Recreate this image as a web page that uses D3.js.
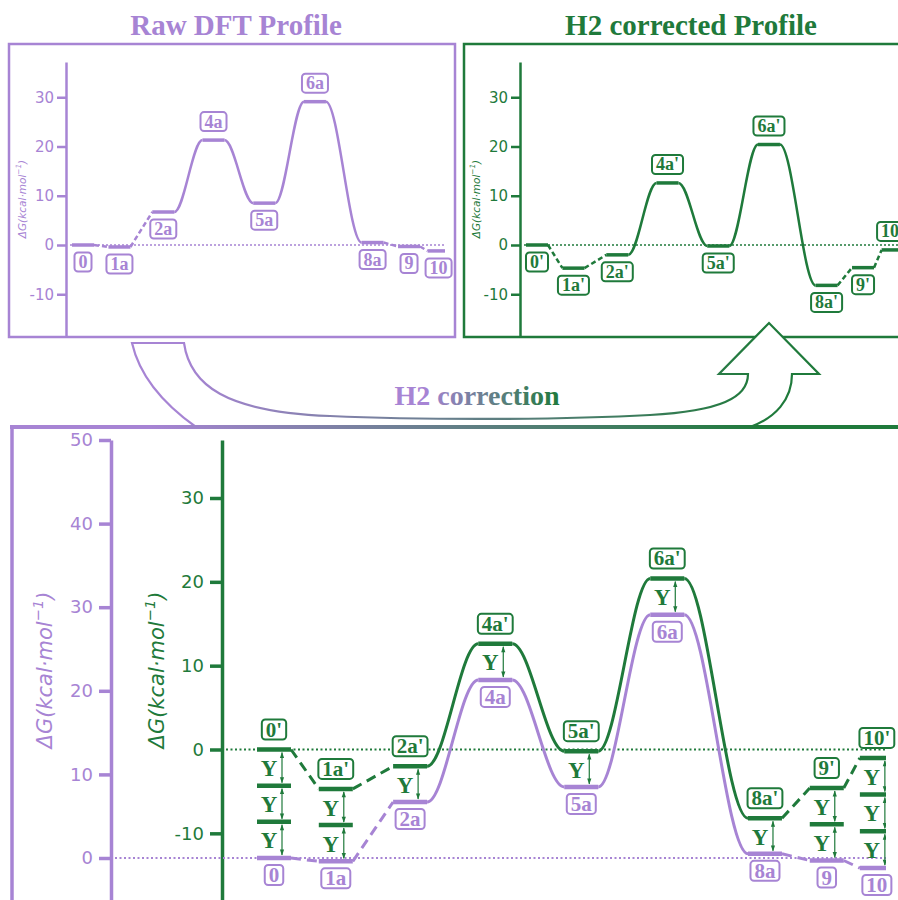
<!DOCTYPE html>
<html>
<head>
<meta charset="utf-8">
<script src="https://cdn.jsdelivr.net/npm/d3@7"></script>
<style>
body { margin: 0; background: #fff; }
</style>
</head>
<body>
<svg id="chart" width="898" height="900"></svg>
<script>
// states along the path
var stateNames = ["0", "1a", "2a", "4a", "5a", "6a", "8a", "9", "10"];
var primeNames = ["0'", "1a'", "2a'", "4a'", "5a'", "6a'", "8a'", "9'", "10'"];
var xPos = [0, 7.4, 16.3, 26.5, 36.8, 47.1, 58.8, 66.2, 72.2];
// free energies kcal/mol
var rawG = [0, -0.4, 6.7, 21.3, 8.5, 29.1, 0.5, -0.3, -1.2];
var corrG = [0, -4.7, -2.0, 12.6, -0.2, 20.4, -8.2, -4.6, -1.0];
var nY = [3, 2, 1, 1, 1, 1, 1, 2, 3];
var linkType = ["dash", "dash", "curve", "curve", "curve", "curve", "dash", "dash"];
var rawTagSide = ["below", "below", "below", "above", "below", "above", "below", "below", "below"];
var corrTagSide = ["below", "below", "below", "above", "below", "above", "below", "below", "above"];
var topTicks = [-10, 0, 10, 20, 30];
var rawTicks = [0, 10, 20, 30, 40, 50];
var corrTicks = [-10, 0, 10, 20, 30];

var purple = "#a784d4";
var green = "#1f7a3b";
var serif = "Liberation Serif, Times New Roman, serif";
var sans = "DejaVu Sans, sans-serif";

var svg = d3.select("#chart");
var defs = svg.append("defs");

function hGrad(id, x1, x2) {
	var g = defs.append("linearGradient").attr("id", id)
		.attr("gradientUnits", "userSpaceOnUse")
		.attr("x1", x1).attr("x2", x2).attr("y1", 0).attr("y2", 0);
	g.append("stop").attr("offset", 0).attr("stop-color", purple);
	g.append("stop").attr("offset", 1).attr("stop-color", green);
}
hGrad("gBorder", 150, 760);
hGrad("gArrow", 180, 760);
hGrad("gText", 425, 560);

defs.append("marker").attr("id", "ah")
	.attr("viewBox", "0 0 10 10").attr("refX", 9).attr("refY", 5)
	.attr("markerWidth", 7).attr("markerHeight", 6)
	.attr("markerUnits", "userSpaceOnUse")
	.attr("orient", "auto-start-reverse")
	.append("path").attr("d", "M0,1.5L10,5L0,8.5Z").attr("fill", green);

defs.append("clipPath").attr("id", "clipTL").append("rect")
	.attr("x", 0).attr("y", 40).attr("width", 445).attr("height", 300);
defs.append("clipPath").attr("id", "clipB").append("rect")
	.attr("x", 0).attr("y", 430).attr("width", 886).attr("height", 470);

function extend(s, lo, hi) {
	// stretch the scale so the axis line runs from lo to hi px
	s.domain([s.invert(lo), s.invert(hi)]).range([lo, hi]);
	return s;
}

function tag(g, x, y, txt, col, size, padX, h) {
	var t = g.append("text")
		.attr("x", x).attr("y", y)
		.attr("text-anchor", "middle")
		.attr("dominant-baseline", "central")
		.attr("font-family", serif).attr("font-weight", "bold")
		.attr("font-size", size).attr("fill", col)
		.text(txt);
	var w = t.node().getComputedTextLength() + padX;
	g.insert("rect", function() { return t.node(); })
		.attr("x", x - w / 2).attr("y", y - h / 2)
		.attr("width", w).attr("height", h)
		.attr("rx", 3.5).attr("fill", "#fff")
		.attr("stroke", col).attr("stroke-width", 2);
}

function profile(g, xs, ys, vals, hw, col, barW, lineW, dash) {
	var pts = vals.map(function(v, i) {
		return {xl: xs(xPos[i]) - hw, xr: xs(xPos[i]) + hw, y: ys(v)};
	});
	for (var i = 0; i < pts.length - 1; i++) {
		var a = pts[i], b = pts[i + 1], d;
		if (linkType[i] == "dash") {
			d = "M" + a.xr + "," + a.y + "L" + b.xl + "," + b.y;
		} else {
			var k = (b.xl - a.xr) * 0.35;
			d = "M" + a.xr + "," + a.y + "C" + (a.xr + k) + "," + a.y + " " + (b.xl - k) + "," + b.y + " " + b.xl + "," + b.y;
		}
		g.append("path").attr("d", d)
			.attr("fill", "none").attr("stroke", col)
			.attr("stroke-width", lineW)
			.attr("stroke-dasharray", linkType[i] == "dash" ? dash : null);
	}
	g.selectAll(null).data(pts).enter().append("line")
		.attr("x1", function(p) { return p.xl; })
		.attr("x2", function(p) { return p.xr; })
		.attr("y1", function(p) { return p.y; })
		.attr("y2", function(p) { return p.y; })
		.attr("stroke", col).attr("stroke-width", barW);
}

function styleAxis(ax, col, lw, fs) {
	ax.selectAll("path, line").attr("stroke", col).attr("stroke-width", lw);
	ax.selectAll("text").attr("fill", col).attr("font-size", fs).attr("font-family", sans);
}

function yLabel(g, x, y, col, fs) {
	var t = g.append("text")
		.attr("transform", "translate(" + x + "," + y + ") rotate(-90)")
		.attr("text-anchor", "middle").attr("dominant-baseline", "central")
		.attr("font-family", sans).attr("font-style", "italic")
		.attr("font-size", fs).attr("fill", col);
	t.append("tspan").text("\u0394G(kcal\u00b7mol");
	t.append("tspan").attr("font-size", fs * 0.7).attr("dy", -fs * 0.4).text("\u22121");
	t.append("tspan").attr("dy", fs * 0.4).text(")");
}

// ---------- titles ----------
svg.append("text").attr("x", 236).attr("y", 35).attr("text-anchor", "middle")
	.attr("font-family", serif).attr("font-weight", "bold").attr("font-size", 29)
	.attr("fill", purple).text("Raw DFT Profile");
svg.append("text").attr("x", 691).attr("y", 35).attr("text-anchor", "middle")
	.attr("font-family", serif).attr("font-weight", "bold").attr("font-size", 29)
	.attr("fill", green).text("H2 corrected Profile");

// ---------- top left: raw ----------
var yT = extend(d3.scaleLinear().domain([0, 30]).range([245, 97.25]), 337, 62);
var xTL = d3.scaleLinear().domain([0, 10]).range([83, 132.25]);
var xTR = d3.scaleLinear().domain([0, 10]).range([537, 586.25]);

svg.append("rect").attr("x", 9).attr("y", 44).attr("width", 446).attr("height", 293)
	.attr("fill", "none").attr("stroke", purple).attr("stroke-width", 2.5);
svg.append("rect").attr("x", 464).attr("y", 44).attr("width", 500).attr("height", 293)
	.attr("fill", "none").attr("stroke", green).attr("stroke-width", 2.5);

var tl = svg.append("g");
var axTL = tl.append("g").attr("transform", "translate(66,0)")
	.call(d3.axisLeft(yT).tickValues(topTicks).tickSize(9).tickSizeOuter(0).tickPadding(3)
		.tickFormat(function(d) { return String(d); }));
styleAxis(axTL, purple, 2.5, 15);
yLabel(tl, 22, 199, purple, 10.5);

var tlPlot = tl.append("g").attr("clip-path", "url(#clipTL)");
tlPlot.append("line").attr("x1", 70).attr("x2", 445).attr("y1", yT(0)).attr("y2", yT(0))
	.attr("stroke", purple).attr("stroke-width", 1.5).attr("stroke-dasharray", "2,2");
profile(tlPlot, xTL, yT, rawG, 11, purple, 3.5, 2.5, "5,3");
rawG.forEach(function(v, i) {
	var y = rawTagSide[i] == "above" ? yT(v) - 18.5 : yT(v) + 17;
	tag(tl, xTL(xPos[i]), y, stateNames[i], purple, 18, 8, 19);
});

// ---------- top right: corrected ----------
var tr = svg.append("g");
var axTR = tr.append("g").attr("transform", "translate(520,0)")
	.call(d3.axisLeft(yT).tickValues(topTicks).tickSize(9).tickSizeOuter(0).tickPadding(3)
		.tickFormat(function(d) { return String(d); }));
styleAxis(axTR, green, 2.5, 15);
yLabel(tr, 476, 199, green, 10.5);

tr.append("line").attr("x1", 524).attr("x2", 898).attr("y1", yT(0)).attr("y2", yT(0))
	.attr("stroke", green).attr("stroke-width", 1.5).attr("stroke-dasharray", "2,2");
profile(tr, xTR, yT, corrG, 11, green, 3.5, 2.5, "5,3");
corrG.forEach(function(v, i) {
	var y = corrTagSide[i] == "above" ? yT(v) - 18.5 : yT(v) + 17;
	tag(tr, xTR(xPos[i]), y, primeNames[i], green, 18, 8, 19);
});

// ---------- big arrow ----------
svg.append("path")
	.attr("d", "M132,343L184,343C190,385 225,412 330,416C420,420 560,420 650,415" +
		"C720,411 748,398 748,374L719,374L769,323L819,374L792,374" +
		"C792,400 775,418 750,427L196,427C165,405 140,378 132,343Z")
	.attr("fill", "#fff").attr("stroke", "url(#gArrow)").attr("stroke-width", 2.2);

var cap = svg.append("text").attr("x", 477).attr("y", 405).attr("text-anchor", "middle")
	.attr("font-family", serif).attr("font-weight", "bold").attr("font-size", 28);
cap.append("tspan").attr("fill", purple).text("H2 ");
cap.append("tspan").attr("fill", "url(#gText)").text("correction");

// bottom panel border
svg.append("line").attr("x1", 12).attr("x2", 12).attr("y1", 427).attr("y2", 900)
	.attr("stroke", purple).attr("stroke-width", 3.5);
svg.append("path").attr("d", "M10,427L898,427")
	.attr("stroke", "url(#gBorder)").attr("stroke-width", 4);

// ---------- bottom: both profiles ----------
var yP = extend(d3.scaleLinear().domain([0, 50]).range([858, 440]), 900, 440);
var yG = extend(d3.scaleLinear().domain([0, 30]).range([749.5, 498]), 900, 440);
var xB = d3.scaleLinear().domain([0, 10]).range([274, 357.5]);

var bot = svg.append("g");
var axP = bot.append("g").attr("transform", "translate(111,0)")
	.call(d3.axisLeft(yP).tickValues(rawTicks).tickSize(12).tickSizeOuter(0).tickPadding(6)
		.tickFormat(function(d) { return String(d); }));
styleAxis(axP, purple, 3.5, 18);
var axG = bot.append("g").attr("transform", "translate(222,0)")
	.call(d3.axisLeft(yG).tickValues(corrTicks).tickSize(12).tickSizeOuter(0).tickPadding(6)
		.tickFormat(function(d) { return String(d); }));
styleAxis(axG, green, 3.5, 18);
yLabel(bot, 45, 670, purple, 21);
yLabel(bot, 157, 670, green, 21);

var plotB = bot.append("g").attr("clip-path", "url(#clipB)");
plotB.append("line").attr("x1", 115).attr("x2", 886).attr("y1", yP(0)).attr("y2", yP(0))
	.attr("stroke", purple).attr("stroke-width", 1.8).attr("stroke-dasharray", "2,2.5");
plotB.append("line").attr("x1", 226).attr("x2", 886).attr("y1", yG(0)).attr("y2", yG(0))
	.attr("stroke", green).attr("stroke-width", 1.8).attr("stroke-dasharray", "2,2.5");
profile(plotB, xB, yP, rawG, 17, purple, 4.5, 3, "10,6");
profile(plotB, xB, yG, corrG, 17, green, 4.5, 3, "10,6");

// Y steps between raw and corrected levels
rawG.forEach(function(v, i) {
	var x0 = xB(xPos[i]);
	var top = yG(corrG[i]), bottom = yP(v);
	var step = (bottom - top) / nY[i];
	for (var k = 0; k < nY[i]; k++) {
		var a = top + k * step, b = top + (k + 1) * step;
		if (k > 0) {
			plotB.append("line").attr("x1", x0 - 17).attr("x2", x0 + 17)
				.attr("y1", a).attr("y2", a)
				.attr("stroke", green).attr("stroke-width", 4.5);
		}
		plotB.append("line").attr("x1", x0 + 8).attr("x2", x0 + 8)
			.attr("y1", a + 3).attr("y2", b - 3)
			.attr("stroke", green).attr("stroke-width", 1.2)
			.attr("marker-start", "url(#ah)").attr("marker-end", "url(#ah)");
		plotB.append("text").attr("x", x0 - 5).attr("y", (a + b) / 2 + 1)
			.attr("text-anchor", "middle").attr("dominant-baseline", "central")
			.attr("font-family", serif).attr("font-weight", "bold")
			.attr("font-size", 23).attr("fill", green).text("Y");
	}
});

rawG.forEach(function(v, i) {
	tag(bot, xB(xPos[i]), yP(v) + 17, stateNames[i], purple, 21, 8, 20);
	tag(bot, xB(xPos[i]), yG(corrG[i]) - 20, primeNames[i], green, 21, 8, 20);
});
</script>
</body>
</html>
